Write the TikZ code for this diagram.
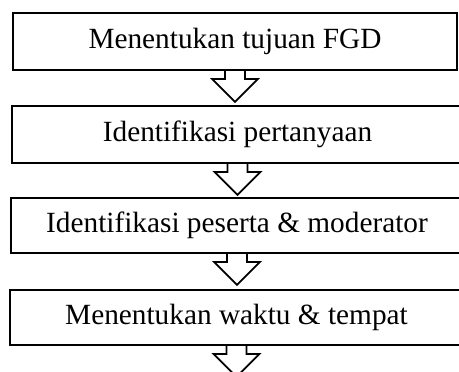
\documentclass[tikz,border=0pt]{standalone}
\usepackage{fontspec}
\setmainfont{Liberation Serif}
\usetikzlibrary{calc}
\begin{document}
\begin{tikzpicture}[x=1pt,y=-1pt,
  box/.style={draw,line width=1.8pt,inner sep=0pt,font=\fontsize{29.3}{34}\selectfont},
  harrow/.style={draw,line width=1.8pt,miter limit=10}]
\useasboundingbox (0,0) rectangle (459,372);
\clip (0,0) rectangle (459,372);
\node[box,minimum width=444pt,minimum height=57pt] (b1) at (235,41.5) {Menentukan tujuan FGD};
\node[box,minimum width=451pt,minimum height=57pt] (b2) at (237.5,134.5) {Identifikasi pertanyaan};
\node[box,minimum width=452pt,minimum height=55pt] (b3) at (237,225.5) {Identifikasi peserta \& moderator};
\node[box,minimum width=453pt,minimum height=55pt] (b4) at (236.5,317.5) {Menentukan waktu \& tempat};
\foreach \n in {b1,b2,b3,b4}{
  \draw[harrow] ($(\n.south)+(-10,0)$) -- ++(0,8) -- ++(-13,0) -- ($(\n.south)+(0,31)$) -- ++(23,-23) -- ++(-13,0) -- ++(0,-8);
}
\end{tikzpicture}
\end{document}
